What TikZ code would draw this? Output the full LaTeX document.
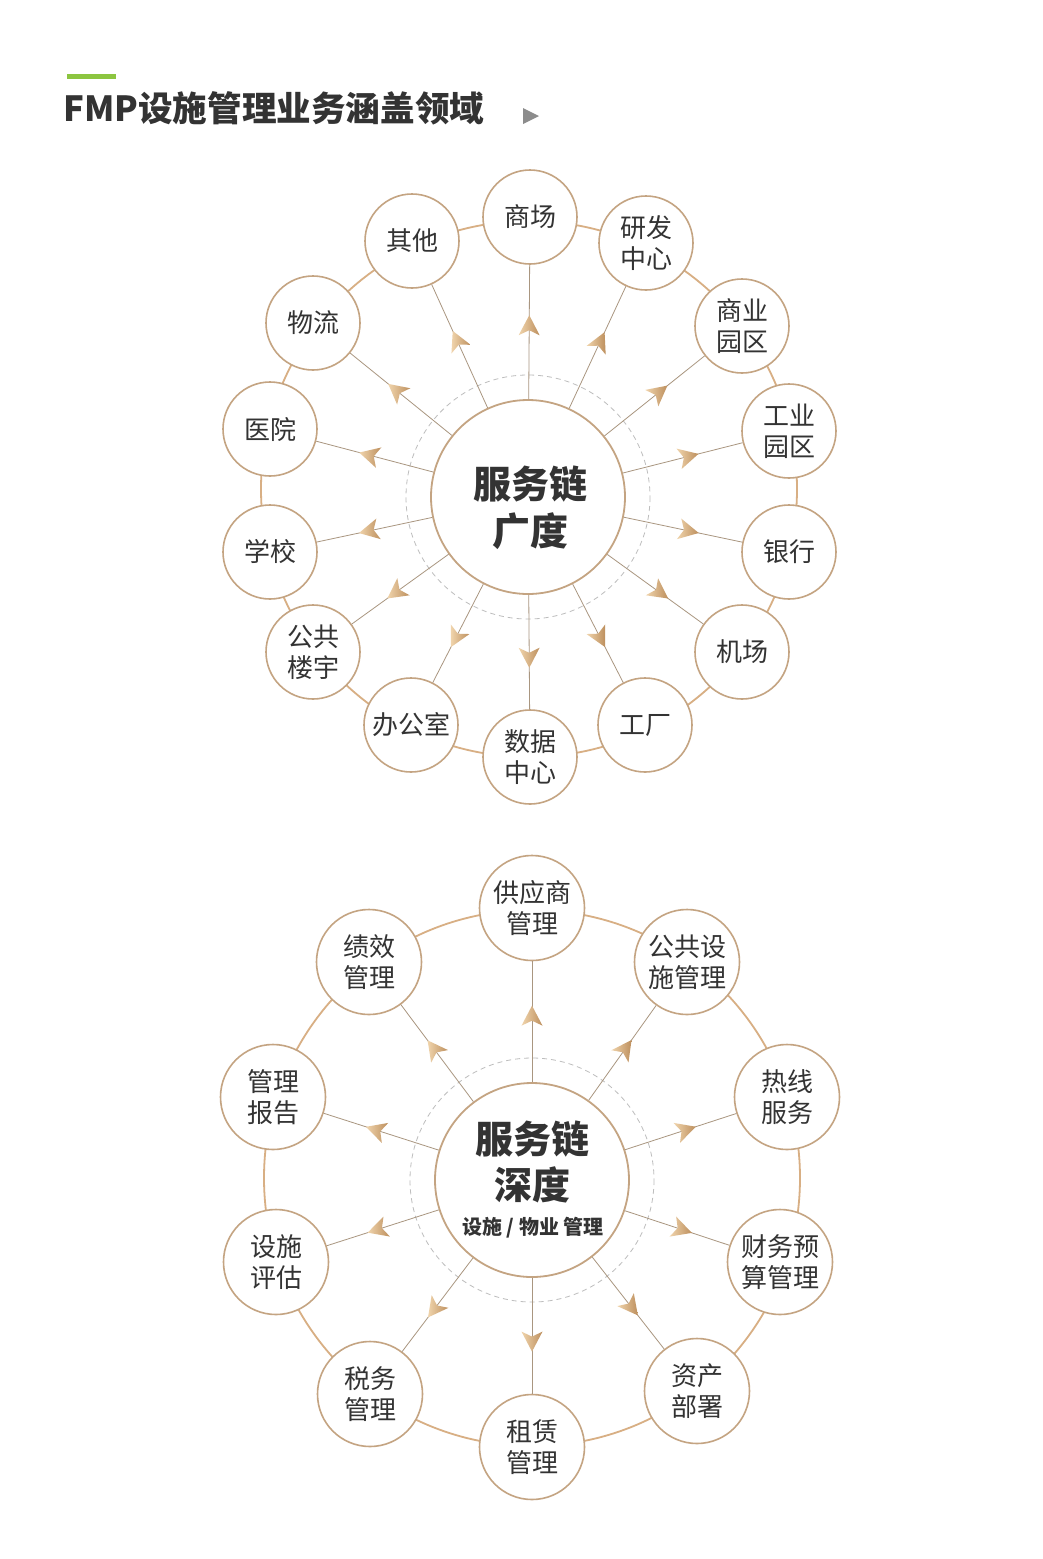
\documentclass[tikz,border=0pt]{standalone}
\usepackage{fontspec}
\setmainfont{Noto Sans CJK SC}
\usetikzlibrary{decorations.markings,calc}
\definecolor{ringc}{HTML}{D8AF84}
\definecolor{nodec}{HTML}{C4A482}
\definecolor{linec}{HTML}{A99680}
\definecolor{dashc}{HTML}{BDBDBD}
\definecolor{txt}{HTML}{333333}
\definecolor{arrL}{HTML}{F0D4AC}
\definecolor{arrR}{HTML}{BD8F5D}
\definecolor{greenbar}{HTML}{8CC540}
\definecolor{tri}{HTML}{8C8C8C}
\begin{document}
\begin{tikzpicture}[x=1pt,y=-1pt,
  ring/.style={draw=ringc, line width=1.8pt},
  dashring/.style={draw=dashc, line width=0.8pt, dash pattern=on 5pt off 4pt},
  onode/.style={circle, draw=nodec, line width=1.6pt, fill=white, inner sep=0pt,
    align=center, text=txt, font=\fontsize{26}{31}\selectfont},
  tnode/.style={onode, minimum size=94pt},
  bnode/.style={onode, minimum size=105pt},
  cnode/.style={circle, draw=nodec, line width=1.8pt, fill=white, inner sep=0pt, minimum size=194pt},
  ctext/.style={text=txt, font=\fontsize{38}{40}\selectfont\bfseries, inner sep=0pt},
  conn/.style={draw=linec, line width=0.8pt, postaction={decorate},
    decoration={markings, mark=at position 0.55 with {
      \shade[left color=arrL, right color=arrR] (10,0) -- (-10,10.5) -- (-5,0) -- (-10,-10.5) -- cycle;}}}
]
\useasboundingbox (0,0) rectangle (1043,1559);
\fill[white] (0,0) rectangle (1043,1559);

% title
\draw[greenbar, line width=5pt] (67,76.5) -- (116,76.5);
\node[anchor=west, inner sep=0pt, text=txt, font=\fontsize{34.6}{36}\selectfont\bfseries] (title) at (63,108) {FMP设施管理业务涵盖领域};
\fill[tri] (523,108) -- (539,116) -- (523,124) -- cycle;

% ---------- top diagram ----------
\draw[ring] (529,489) circle[radius=268];
\draw[dashring] (528,497) circle[radius=122];
\node[cnode] (tc) at (528,497) {};
\node[ctext] (tc1) at (530,484) {服务链};
\node[ctext] (tc2) at (530,531) {广度};
\foreach \k/\x/\y/\t in {0/530/217/{商场}, 1/646/243/{研发\\中心}, 2/742/326/{商业\\园区}, 3/789/431/{工业\\园区}, 4/789/552/{银行}, 5/742/652/{机场}, 6/645/725/{工厂}, 7/530/757/{数据\\中心}, 8/411/725/{办公室}, 9/313/652/{公共\\楼宇}, 10/270/552/{学校}, 11/270/429/{医院}, 12/313/323/{物流}, 13/412/241/{其他}}{
  \node[tnode] (t\k) at (\x,\y) {\t};
  \draw[conn] (tc) -- (t\k);
}

% ---------- bottom diagram ----------
\draw[ring] (532,1178) circle[radius=268];
\draw[dashring] (532,1180) circle[radius=122];
\node[cnode] (bc) at (532,1180) {};
\node[ctext] (bc1) at (532,1139) {服务链};
\node[ctext] (bc2) at (532,1185) {深度};
\node[text=txt, inner sep=0pt, font=\fontsize{20}{22}\selectfont\bfseries] (bc3) at (533,1228) {设施 / 物业 管理};
\foreach \k/\x/\y/\t in {0/532/908/{供应商\\管理}, 1/687/962/{公共设\\施管理}, 2/787/1097/{热线\\服务}, 3/780/1262/{财务预\\算管理}, 4/697/1391/{资产\\部署}, 5/532/1447/{租赁\\管理}, 6/370/1394/{税务\\管理}, 7/276/1262/{设施\\评估}, 8/273/1097/{管理\\报告}, 9/369/962/{绩效\\管理}}{
  \node[bnode] (b\k) at (\x,\y) {\t};
  \draw[conn] (bc) -- (b\k);
}
\end{tikzpicture}
\end{document}
